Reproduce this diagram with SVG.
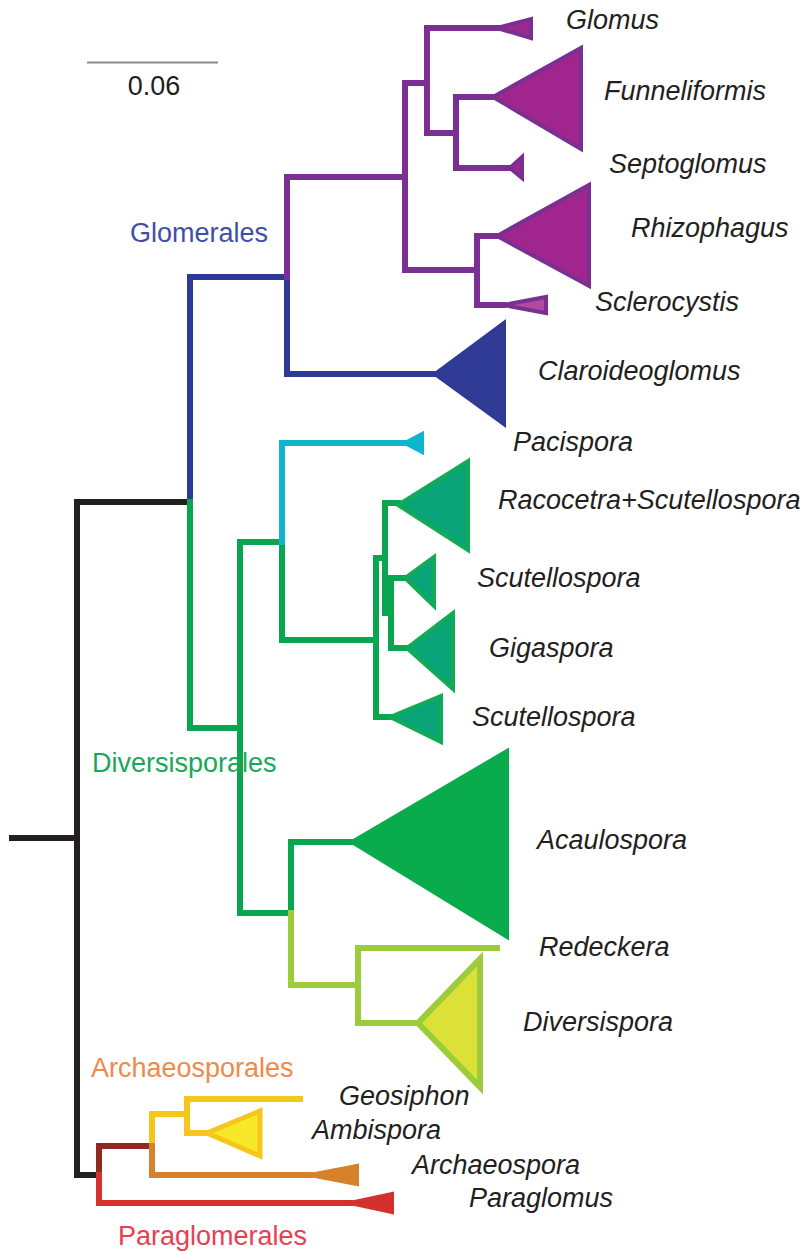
<svg xmlns="http://www.w3.org/2000/svg" width="806" height="1251" viewBox="0 0 806 1251">
<style>
.br{fill:none;stroke-width:6;stroke-linecap:square;stroke-linejoin:miter}
.tx{font-family:"Liberation Sans",Arial,sans-serif;font-size:27px;fill:#231f20;font-style:italic}
.ord{font-family:"Liberation Sans",Arial,sans-serif;font-size:27px}
.tri{stroke-width:4;stroke-linejoin:miter}
</style>
<rect width="806" height="1251" fill="#ffffff"/>
<g id="scale">
<line x1="87" y1="62.5" x2="218" y2="62.5" stroke="#8a8a8a" stroke-width="2"/>
<text x="154" y="95" text-anchor="middle" style="font-family:'Liberation Sans',Arial,sans-serif;font-size:27px;fill:#231f20">0.06</text>
</g>
<g id="connectors">
<path class="br" stroke="#231f20" d="M12 838 H77"/>
<path class="br" stroke="#231f20" d="M190 502 H77 V1175 H99"/>
<path class="br" stroke="#2e3a94" d="M190 502 V277 H287 V374 H435"/>
<path class="br" stroke="#7b2f92" d="M287 277 V177 H405"/>
<path class="br" stroke="#7b2f92" d="M427 83 H405 V270 H477"/>
<path class="br" stroke="#7b2f92" d="M497 28 H427 V133 H456"/>
<path class="br" stroke="#7b2f92" d="M493 97 H456 V168 H510"/>
<path class="br" stroke="#7b2f92" d="M497 236 H477 V305 H503"/>
<path class="br" stroke="#0aa64f" d="M190 502 V728 H240"/>
<path class="br" stroke="#0aa64f" d="M282 542 H240 V913 H291"/>
<path class="br" stroke="#0aa64f" d="M282 542 V640 H376"/>
<path class="br" stroke="#0aa64f" d="M385 558 H376 V717 H390"/>
<path class="br" stroke="#0aa64f" d="M398 503 H385 V613 H391"/>
<path class="br" stroke="#0aa64f" d="M405 578 H391 V648 H407"/>
<path class="br" stroke="#0aa64f" d="M291 913 V842 H352"/>
<path class="br" stroke="#10b4cf" d="M282 542 V443 H405"/>
<path class="br" stroke="#9ccb3b" d="M291 913 V985 H358"/>
<path class="br" stroke="#9ccb3b" d="M497 948 H358 V1023 H418"/>
<path class="br" stroke="#8e2a22" d="M99 1175 V1146 H152"/>
<path class="br" stroke="#d4302f" d="M99 1175 V1203 H350"/>
<path class="br" stroke="#f6c61a" d="M152 1146 V1114 H187"/>
<path class="br" stroke="#f6c61a" d="M300 1099 H187 V1133 H207"/>
<path class="br" stroke="#d6822a" d="M152 1146 V1175 H310"/>
</g>
<g id="Glomus"><polygon class="tri" points="497,28 531,19 531,38" fill="#9b2a8e" stroke="#7b2f92"/><text class="tx" x="566" y="29">Glomus</text></g>
<g id="Funneliformis"><polygon class="tri" points="493,97 581,48 581,149" fill="#a0268e" stroke="#7b2f92"/><text class="tx" x="604" y="100">Funneliformis</text></g>
<g id="Septoglomus"><polygon class="tri" points="510,168 522,157 522,178" fill="#a0268e" stroke="#7b2f92"/><text class="tx" x="609" y="173">Septoglomus</text></g>
<g id="Rhizophagus"><polygon class="tri" points="497,236 589,185 589,286" fill="#a0268e" stroke="#7b2f92"/><text class="tx" x="631" y="237">Rhizophagus</text></g>
<g id="Sclerocystis"><polygon class="tri" points="503,305 546,297 546,313" fill="#b04aa0" stroke="#7b2f92"/><text class="tx" x="595" y="311">Sclerocystis</text></g>
<g id="Claroideoglomus"><polygon class="tri" points="435,374 504,323 504,424" fill="#2f3b94" stroke="#2e3a94"/><text class="tx" x="538" y="380">Claroideoglomus</text></g>
<g id="Pacispora"><polygon class="tri" points="405,443 422,434 422,452" fill="#10b4cf" stroke="#10b4cf"/><text class="tx" x="513" y="451">Pacispora</text></g>
<g id="Racocetra"><polygon class="tri" points="398,505 468,461 468,550" fill="#0aa479" stroke="#12aa55"/><text class="tx" x="498" y="509">Racocetra+Scutellospora</text></g>
<g id="Scutellospora1"><polygon class="tri" points="405,578 434,557 434,606" fill="#0aa479" stroke="#12aa55"/><text class="tx" x="477" y="587">Scutellospora</text></g>
<g id="Gigaspora"><polygon class="tri" points="407,648 453,613 453,689" fill="#0aa479" stroke="#12aa55"/><text class="tx" x="489" y="657">Gigaspora</text></g>
<g id="Scutellospora2"><polygon class="tri" points="390,717 441,696 441,742" fill="#0aa479" stroke="#12aa55"/><text class="tx" x="472" y="726">Scutellospora</text></g>
<g id="Acaulospora"><polygon class="tri" points="352,842 507,751 507,937" fill="#0aab4c" stroke="#0aab4c"/><text class="tx" x="537" y="849">Acaulospora</text></g>
<g id="Redeckera"><text class="tx" x="539" y="956">Redeckera</text></g>
<g id="Diversispora"><polygon points="418,1023 480,959 480,1087" fill="#dbe136" stroke="#9ccb3b" stroke-width="6"/><text class="tx" x="523" y="1031">Diversispora</text></g>
<g id="Geosiphon"><text class="tx" x="339" y="1105">Geosiphon</text></g>
<g id="Ambispora"><polygon points="207,1133 260,1111 260,1156" fill="#f8e82a" stroke="#f6c61a" stroke-width="5"/><text class="tx" x="312" y="1139">Ambispora</text></g>
<g id="Archaeospora"><polygon class="tri" points="310,1175 357,1166 357,1184" fill="#d6822a" stroke="#d6822a"/><text class="tx" x="412" y="1174">Archaeospora</text></g>
<g id="Paraglomus"><polygon class="tri" points="350,1203 392,1194 392,1212" fill="#d4302f" stroke="#d4302f"/><text class="tx" x="469" y="1207">Paraglomus</text></g>
<g id="Glomerales"><text class="ord" x="130" y="242" fill="#3f4fa8">Glomerales</text></g>
<g id="Diversisporales"><text class="ord" x="92" y="772" fill="#19a85a">Diversisporales</text></g>
<g id="Archaeosporales"><text class="ord" x="91" y="1077" fill="#f08a4b">Archaeosporales</text></g>
<g id="Paraglomerales"><text class="ord" x="118" y="1245" fill="#e84050">Paraglomerales</text></g>
</svg>
